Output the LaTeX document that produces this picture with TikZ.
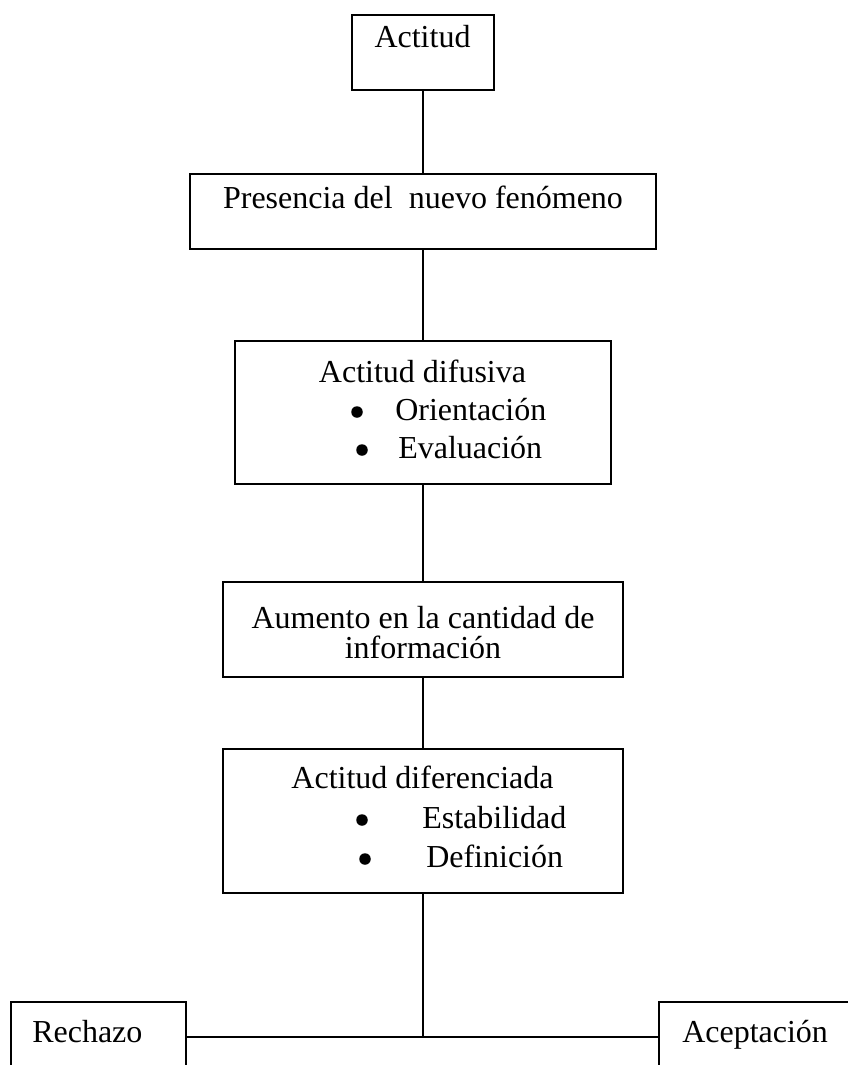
\documentclass[tikz,border=0pt]{standalone}
\usepackage{fontspec}
\setmainfont{Liberation Serif}
\usetikzlibrary{calc}

\begin{document}
\begin{tikzpicture}[x=0.75pt,y=-0.75pt,
  caja/.style={draw=black,line width=1.4pt,inner sep=0pt},
  texto/.style={font=\fontsize{24}{29}\selectfont,inner sep=0pt,anchor=base},
  item/.style={texto,anchor=base west},
  punto/.style={circle,fill=black,inner sep=0pt,minimum size=11.5*0.75pt},
  linea/.style={line width=1.4pt}]
\useasboundingbox (0,0) rectangle (848,1065);
\clip (0,0) rectangle (848,1065);

% cajas
\node[caja,minimum width=142*0.75pt,minimum height=75*0.75pt] (actitud) at (423,52.5) {};
\node[caja,minimum width=466*0.75pt,minimum height=75*0.75pt] (presencia) at (423,211.5) {};
\node[caja,minimum width=376*0.75pt,minimum height=143*0.75pt] (difusiva) at (423,412.5) {};
\node[caja,minimum width=400*0.75pt,minimum height=95*0.75pt] (aumento) at (423,629.5) {};
\node[caja,minimum width=400*0.75pt,minimum height=144*0.75pt] (diferenciada) at (423,821) {};
\node[caja,minimum width=175*0.75pt,minimum height=98*0.75pt] (rechazo) at (98.5,1051) {};
\node[caja,minimum width=221*0.75pt,minimum height=98*0.75pt] (aceptacion) at (769.5,1051) {};

% textos
\node[texto] (tActitud) at (422.5,47) {Actitud};
\node[texto] (tPresencia) at (423,208) {Presencia del\ \ nuevo fenómeno};
\node[texto] (tDifusiva) at (422.5,382) {Actitud difusiva};
\node[punto] (bOrient) at (357,412) {};
\node[item] (tOrient) at (395,420) {Orientación};
\node[punto] (bEval) at (362,450) {};
\node[item] (tEval) at (398,458) {Evaluación};
\node[texto] (tAumento) at (423,628) {Aumento en la cantidad de};
\node[texto] (tInfo) at (423,658) {información};
\node[texto] (tDiferen) at (422.5,788) {Actitud diferenciada};
\node[punto] (bEstab) at (362,820) {};
\node[item] (tEstab) at (422,828) {Estabilidad};
\node[punto] (bDefin) at (365,859) {};
\node[item] (tDefin) at (426,867) {Definición};
\node[item] (tRechazo) at (32,1042) {Rechazo};
\node[item] (tAcept) at (682,1042) {Aceptación};

% conectores
\draw[linea] (actitud.south) -- (presencia.north);
\draw[linea] (presencia.south) -- (difusiva.north);
\draw[linea] (difusiva.south) -- (aumento.north);
\draw[linea] (aumento.south) -- (diferenciada.north);
\coordinate (cruce) at (423,1037);
\draw[linea] (diferenciada.south) -- (cruce);
\draw[linea] (rechazo.east |- cruce) -- (aceptacion.west |- cruce);
\end{tikzpicture}
\end{document}
